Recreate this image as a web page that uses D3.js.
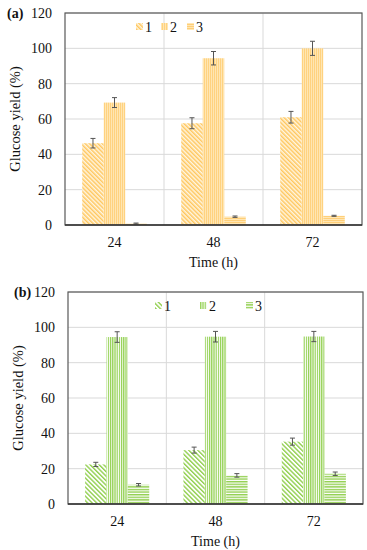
<!DOCTYPE html>
<html><head><meta charset="utf-8">
<script src="https://cdn.jsdelivr.net/npm/d3@7/dist/d3.min.js"></script>
<style>body{margin:0;background:#fff}svg{display:block}text{font-family:"Liberation Serif","Times New Roman",serif;fill:#111}</style>
</head><body><svg id="c" width="367" height="550"></svg>
<script>
const categories = ["24","48","72"];
const seriesNames = ["1","2","3"];
const yTicks = [0,20,40,60,80,100,120];
// panel (a)
const aS1 = [46.3, 57.6, 61.0];
const aS2 = [69.3, 94.4, 100.0];
const aS3 = [0.8, 4.7, 5.2];
const aE1 = [2.7, 3.1, 3.3];
const aE2 = [2.8, 3.8, 4.0];
const aE3 = [0.3, 0.4, 0.3];
// panel (b)
const bS1 = [22.4, 30.5, 35.3];
const bS2 = [94.5, 94.7, 94.8];
const bS3 = [10.9, 16.2, 17.1];
const bE1 = [1.2, 1.7, 2.0];
const bE2 = [3.0, 3.0, 2.9];
const bE3 = [0.7, 1.0, 1.0];

const svg = d3.select("#c");
const defs = svg.append("defs");
function stripePat(id, size, lineW, bg, fg, rot){
  const p = defs.append("pattern").attr("id",id).attr("patternUnits","userSpaceOnUse")
    .attr("width",size).attr("height",size);
  if(rot!==null) p.attr("patternTransform","rotate("+rot+")");
  p.append("rect").attr("width",size).attr("height",size).attr("fill",bg);
  p.append("rect").attr("width",lineW).attr("height",size).attr("fill",fg);
}
function hStripe(id,size,lineW,bg,fg){
  const p = defs.append("pattern").attr("id",id).attr("patternUnits","userSpaceOnUse")
    .attr("width",size).attr("height",size);
  p.append("rect").attr("width",size).attr("height",size).attr("fill",bg);
  p.append("rect").attr("width",size).attr("height",lineW).attr("fill",fg);
}
// orange
stripePat("a1",3,1.5,"#FFF6E2","#FFC75E",-45);
stripePat("a2",2,1,"#FFE6B3","#FFD27F",null);
hStripe("a3",2,1,"#FFE6B3","#FFCF78");
// green
stripePat("b1",3.2,1.4,"#ffffff","#92D050",-45);
stripePat("b2",2.2,1.2,"#ffffff","#92D050",null);
hStripe("b3",2.6,1.4,"#ffffff","#92D050");

function panel(o){
  const g = svg.append("g");
  const x = d3.scaleBand().domain(categories).range([o.left,o.right]);
  const xs = d3.scaleBand().domain(seriesNames).range([0,x.bandwidth()]).paddingOuter(0.8).paddingInner(0);
  const y = d3.scaleLinear().domain([0,120]).range([o.bottom,o.top]);
  // grid
  g.append("g").selectAll("line").data(yTicks.slice(1)).join("line")
    .attr("x1",o.left).attr("x2",o.right).attr("y1",d=>y(d)).attr("y2",d=>y(d))
    .attr("stroke","#d9d9d9").attr("stroke-width",1);
  g.append("g").selectAll("line").data(categories.slice(1)).join("line")
    .attr("x1",d=>x(d)).attr("x2",d=>x(d)).attr("y1",o.top).attr("y2",o.bottom)
    .attr("stroke","#d9d9d9").attr("stroke-width",1);
  // bars
  o.series.forEach((vals,si)=>{
    const sn = seriesNames[si];
    g.append("g").selectAll("rect").data(vals).join("rect")
      .attr("x",(d,i)=>x(categories[i])+xs(sn))
      .attr("width",xs.bandwidth())
      .attr("y",d=>y(d)).attr("height",d=>y(0)-y(d))
      .attr("fill","url(#"+o.pats[si]+")");
    const eg = g.append("g").attr("stroke","#555").attr("stroke-width",1);
    vals.forEach((d,i)=>{
      const cx = x(categories[i])+xs(sn)+xs.bandwidth()/2;
      const e = o.errs[si][i];
      eg.append("line").attr("x1",cx).attr("x2",cx).attr("y1",y(d-e)).attr("y2",y(d+e));
      eg.append("line").attr("x1",cx-2.5).attr("x2",cx+2.5).attr("y1",y(d-e)).attr("y2",y(d-e));
      eg.append("line").attr("x1",cx-2.5).attr("x2",cx+2.5).attr("y1",y(d+e)).attr("y2",y(d+e));
    });
  });
  // frame
  g.append("rect").attr("x",o.left).attr("y",o.top).attr("width",o.right-o.left).attr("height",o.bottom-o.top)
    .attr("fill","none").attr("stroke","#595959").attr("stroke-width",1.2);
  g.append("line").attr("x1",o.left).attr("x2",o.right).attr("y1",o.bottom).attr("y2",o.bottom)
    .attr("stroke","#333").attr("stroke-width",1.5);
  // y axis
  const ya = g.append("g").attr("transform","translate("+o.left+",0)")
    .call(d3.axisLeft(y).tickValues(yTicks).tickSize(0).tickPadding(13));
  ya.select(".domain").remove();
  ya.selectAll("text").attr("font-size",14).attr("font-family","Liberation Serif").attr("fill","#111");
  const xa = g.append("g").attr("transform","translate(0,"+o.bottom+")")
    .call(d3.axisBottom(x).tickSize(0).tickPadding(12));
  xa.select(".domain").remove();
  xa.selectAll("text").attr("font-size",14).attr("font-family","Liberation Serif").attr("fill","#111");
  g.append("text").attr("x",(o.left+o.right)/2).attr("y",o.bottom+42).attr("text-anchor","middle")
    .attr("font-size",14).text("Time (h)");
  g.append("text").attr("transform","translate("+(o.left-45)+","+((o.top+o.bottom)/2)+") rotate(-90)")
    .attr("text-anchor","middle").attr("font-size",14.5).text("Glucose yield (%)");
  g.append("text").attr("x",o.labX).attr("y",o.top+5).attr("font-size",14).attr("font-weight","bold").text(o.label);
  // legend
  o.legX.forEach((lx,i)=>{
    g.append("rect").attr("x",lx).attr("y",o.legY-4).attr("width",7).attr("height",7).attr("fill","url(#"+o.pats[i]+")");
    g.append("text").attr("x",lx+9).attr("y",o.legY+5).attr("font-size",14).text(seriesNames[i]);
  });
}
panel({left:65,right:362,top:13,bottom:225,series:[aS1,aS2,aS3],errs:[aE1,aE2,aE3],pats:["a1","a2","a3"],
  label:"(a)",labX:7,legX:[136,161,187],legY:27});
panel({left:68,right:363,top:292,bottom:504,series:[bS1,bS2,bS3],errs:[bE1,bE2,bE3],pats:["b1","b2","b3"],
  label:"(b)",labX:14,legX:[155,200,246],legY:306});
</script></body></html>
